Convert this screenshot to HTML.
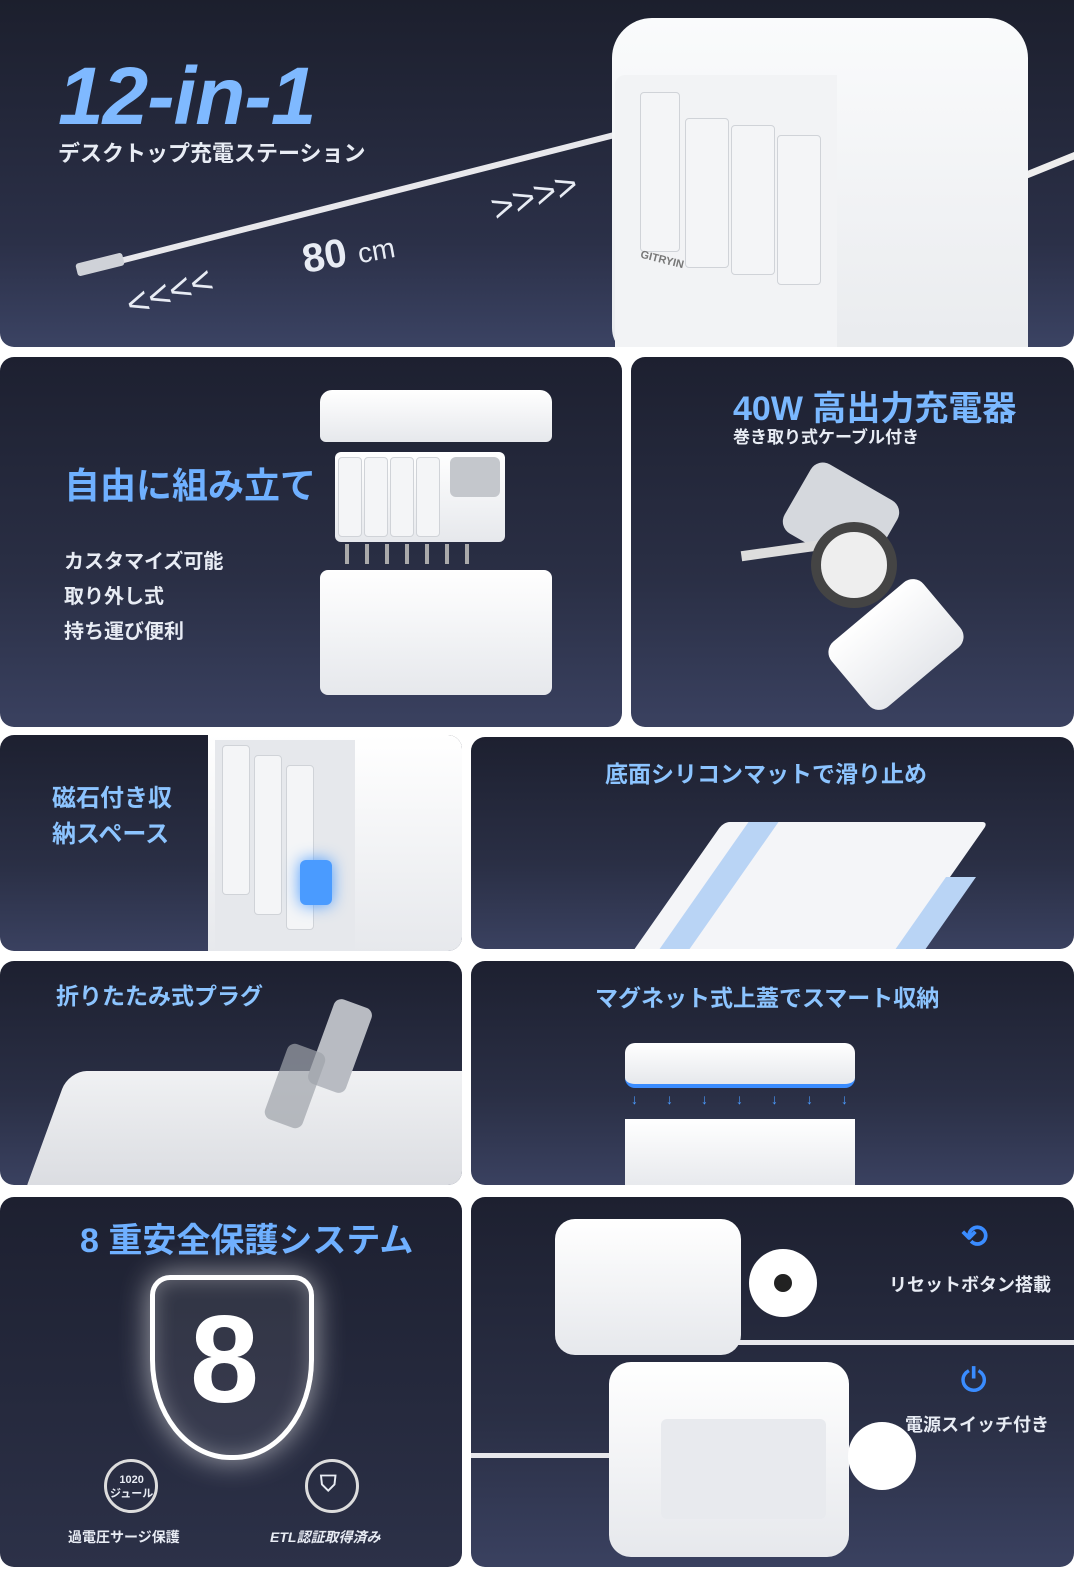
<!DOCTYPE html>
<html><head><meta charset="utf-8"><style>
*{margin:0;padding:0;box-sizing:border-box}
body{width:1080px;height:1577px;background:#fff;position:relative;overflow:hidden;font-family:"Liberation Sans","Noto Sans CJK JP",sans-serif}
.p{position:absolute;border-radius:14px;overflow:hidden;background:linear-gradient(180deg,#1d2030 0%,#2a2f45 60%,#3a4160 100%)}
.t{position:absolute;font-weight:700;color:#8cc4ff;white-space:nowrap}
.w{position:absolute;color:#e8ecf4;font-weight:700;white-space:nowrap}
.box{position:absolute;background:linear-gradient(180deg,#ffffff,#e6e8ec);border-radius:14px}
.g{position:absolute;background:#d9dce2;border-radius:6px}
.mod{position:absolute;background:#f4f5f7;border:1px solid #d0d3d8;border-radius:4px}
</style></head><body>

<!-- panel 1 -->
<div class="p" style="left:0;top:0;width:1074px;height:347px;border-radius:0 0 14px 14px;background:linear-gradient(180deg,#1c1f2d,#2b3048 70%,#3b4363)">
  <div class="t" style="left:58px;top:50px;font-size:82px;font-style:italic;font-weight:900;color:#7fb9ff;letter-spacing:-1px">12-in-1</div>
  <div class="w" style="left:58px;top:136px;font-size:22px">デスクトップ充電ステーション</div>
  <div style="position:absolute;left:120px;top:258px;width:540px;height:6px;background:#e8e8ec;transform-origin:left center;transform:rotate(-14.3deg);border-radius:3px"></div>
  <div style="position:absolute;left:76px;top:258px;width:48px;height:13px;background:#cfd2d8;transform:rotate(-14deg);border-radius:3px"></div>
  <div class="w" style="left:302px;top:230px;font-size:40px;transform:rotate(-10deg)">80 <span style="font-size:28px;font-weight:400">cm</span></div>
  <div class="w" style="left:125px;top:272px;font-size:38px;transform:rotate(-18deg);font-weight:400;font-style:italic">&lt;&lt;&lt;&lt;</div>
  <div class="w" style="left:490px;top:176px;font-size:38px;transform:rotate(-18deg);font-weight:400;font-style:italic">&gt;&gt;&gt;&gt;</div>
  <div style="position:absolute;left:1020px;top:160px;width:70px;height:7px;background:#eee;transform:rotate(-22deg)"></div>
  <div class="box" style="left:612px;top:18px;width:416px;height:340px;border-radius:40px 40px 0 30px;background:linear-gradient(180deg,#fafbfc,#e9ebee)"></div>
  <div style="position:absolute;left:615px;top:75px;width:222px;height:272px;background:#f2f3f5;border-radius:10px 0 0 0"></div>
  <div class="mod" style="left:640px;top:92px;width:40px;height:160px"></div>
  <div class="mod" style="left:685px;top:118px;width:44px;height:150px"></div>
  <div class="mod" style="left:731px;top:125px;width:44px;height:150px"></div>
  <div class="mod" style="left:777px;top:135px;width:44px;height:150px"></div>
  <div class="w" style="left:640px;top:254px;font-size:11px;color:#777;transform:rotate(14deg)">GITRYIN</div>
</div>

<!-- row 2 -->
<div class="p" style="left:0;top:357px;width:622px;height:370px">
  <div class="t" style="left:64px;top:100px;font-size:36px;color:#6fb0ff">自由に組み立て</div>
  <div class="w" style="left:64px;top:188px;font-size:20px;line-height:35px">カスタマイズ可能<br>取り外し式<br>持ち運び便利</div>
  <div class="box" style="left:320px;top:33px;width:232px;height:52px;border-radius:12px 12px 6px 6px"></div>
  <div class="box" style="left:335px;top:95px;width:170px;height:90px;border-radius:6px"></div>
  <div class="mod" style="left:338px;top:100px;width:24px;height:80px"></div>
  <div class="mod" style="left:364px;top:100px;width:24px;height:80px"></div>
  <div class="mod" style="left:390px;top:100px;width:24px;height:80px"></div>
  <div class="mod" style="left:416px;top:100px;width:24px;height:80px"></div>
  <div class="g" style="left:450px;top:100px;width:50px;height:40px;background:#c4c7cc"></div>
  <div style="position:absolute;left:345px;top:187px;width:140px;height:20px;background:repeating-linear-gradient(90deg,#aaa 0 4px,transparent 4px 20px)"></div>
  <div class="box" style="left:320px;top:213px;width:232px;height:125px;border-radius:8px"></div>
</div>
<div class="p" style="left:631px;top:357px;width:443px;height:370px">
  <div class="t" style="left:102px;top:24px;font-size:34px;color:#7ab8ff">40W 高出力充電器</div>
  <div class="w" style="left:102px;top:66px;font-size:17px">巻き取り式ケーブル付き</div>
  <div class="box" style="left:160px;top:120px;width:100px;height:80px;background:#d5d8dd;transform:rotate(30deg)"></div>
  <div style="position:absolute;left:110px;top:188px;width:90px;height:10px;background:#ddd;transform:rotate(-8deg)"></div>
  <div style="position:absolute;left:180px;top:165px;width:86px;height:86px;border-radius:50%;background:#eee;border:10px solid #444"></div>
  <div class="box" style="left:205px;top:245px;width:120px;height:85px;transform:rotate(-40deg)"></div>
</div>

<!-- row 3 -->
<div class="p" style="left:0;top:735px;width:462px;height:216px">
  <div class="t" style="left:52px;top:46px;font-size:24px;line-height:36px;color:#8cc4ff">磁石付き収<br>納スペース</div>
  <div class="box" style="left:208px;top:0;width:260px;height:220px;border-radius:0"></div>
  <div class="g" style="left:215px;top:5px;width:140px;height:215px;background:#e6e8ec;border-radius:0"></div>
  <div class="mod" style="left:222px;top:10px;width:28px;height:150px"></div>
  <div class="mod" style="left:254px;top:20px;width:28px;height:160px"></div>
  <div class="mod" style="left:286px;top:30px;width:28px;height:165px"></div>
  <div style="position:absolute;left:300px;top:125px;width:32px;height:45px;background:#4a9bff;border-radius:6px;box-shadow:0 0 16px #4a9bff"></div>
</div>
<div class="p" style="left:471px;top:737px;width:603px;height:212px">
  <div class="t" style="left:134px;top:18px;font-size:23px;color:#8cc4ff">底面シリコンマットで滑り止め</div>
  <div style="position:absolute;left:200px;top:85px;width:265px;height:150px;background:#f4f5f8;transform:skewX(-35deg);border-radius:6px"></div>
  <div style="position:absolute;left:225px;top:85px;width:30px;height:150px;background:#b9d4f5;transform:skewX(-35deg)"></div>
  <div style="position:absolute;left:440px;top:140px;width:30px;height:100px;background:#b9d4f5;transform:skewX(-35deg)"></div>
</div>

<!-- row 4 -->
<div class="p" style="left:0;top:961px;width:462px;height:224px">
  <div class="t" style="left:56px;top:16px;font-size:23px;color:#8cc4ff">折りたたみ式プラグ</div>
  <div style="position:absolute;left:45px;top:110px;width:440px;height:130px;background:linear-gradient(180deg,#f0f1f3,#d8dadf);border-radius:18px;transform:skewX(-20deg)"></div>
  <div style="position:absolute;left:320px;top:40px;width:40px;height:90px;background:#b8bbc2;border-radius:8px;transform:rotate(20deg)"></div>
  <div style="position:absolute;left:275px;top:85px;width:40px;height:80px;background:#9ea2aa;border-radius:8px;opacity:.7;transform:rotate(20deg)"></div>
</div>
<div class="p" style="left:471px;top:961px;width:603px;height:224px">
  <div class="t" style="left:124px;top:18px;font-size:23px;color:#8cc4ff">マグネット式上蓋でスマート収納</div>
  <div class="box" style="left:154px;top:82px;width:230px;height:45px;border-radius:10px;border-bottom:4px solid #3a8cff"></div>
  <div class="t" style="left:160px;top:130px;font-size:14px;color:#4a9bff;letter-spacing:28px">↓↓↓↓↓↓↓</div>
  <div class="box" style="left:154px;top:158px;width:230px;height:70px;border-radius:0"></div>
</div>

<!-- row 5 -->
<div class="p" style="left:0;top:1197px;width:462px;height:370px;background:linear-gradient(180deg,#1d2030,#2c3148)">
  <div class="t" style="left:80px;top:16px;font-size:34px;color:#6fb0ff">8 重安全保護システム</div>
  <div style="position:absolute;left:150px;top:78px;width:164px;height:185px;border:5px solid #fff;border-radius:20px 20px 80px 80px/20px 20px 100px 100px;box-shadow:0 0 30px rgba(255,255,255,.6),inset 0 0 20px rgba(255,255,255,.3);background:rgba(255,255,255,.08)"></div>
  <div class="w" style="left:190px;top:92px;font-size:124px;color:#fff;font-weight:900">8</div>
  <div style="position:absolute;left:104px;top:262px;width:54px;height:54px;border-radius:50%;border:3px solid #ddd"></div>
  <div class="w" style="left:110px;top:276px;font-size:11px;line-height:14px;text-align:center">1020<br>ジュール</div>
  <div style="position:absolute;left:305px;top:262px;width:54px;height:54px;border-radius:50%;border:3px solid #ddd"></div>
  <div class="w" style="left:320px;top:274px;font-size:22px">⛉</div>
  <div class="w" style="left:68px;top:330px;font-size:14px">過電圧サージ保護</div>
  <div class="w" style="left:270px;top:330px;font-size:14px;font-style:italic">ETL認証取得済み</div>
</div>
<div class="p" style="left:471px;top:1197px;width:603px;height:370px">
  <div style="position:absolute;left:240px;top:143px;width:380px;height:5px;background:#e8e8ec"></div>
  <div class="box" style="left:84px;top:22px;width:186px;height:136px;border-radius:20px"></div>
  <div style="position:absolute;left:278px;top:52px;width:68px;height:68px;border-radius:50%;background:#fff"><div style="margin:25px;width:18px;height:18px;border-radius:50%;background:#222"></div></div>
  <div class="t" style="left:490px;top:20px;font-size:32px;color:#3a8cff">⟲</div>
  <div class="w" style="left:418px;top:74px;font-size:18px">リセットボタン搭載</div>
  <div style="position:absolute;left:0;top:256px;width:140px;height:5px;background:#e8e8ec"></div>
  <div class="box" style="left:138px;top:165px;width:240px;height:195px;border-radius:22px"></div>
  <div class="g" style="left:190px;top:222px;width:165px;height:100px;background:#e8eaee"></div>
  <div style="position:absolute;left:377px;top:225px;width:68px;height:68px;border-radius:50%;background:#fff"></div>
  <div class="t" style="left:490px;top:165px;font-size:32px;color:#3a8cff">⏻</div>
  <div class="w" style="left:434px;top:214px;font-size:18px">電源スイッチ付き</div>
</div>
</body></html>
